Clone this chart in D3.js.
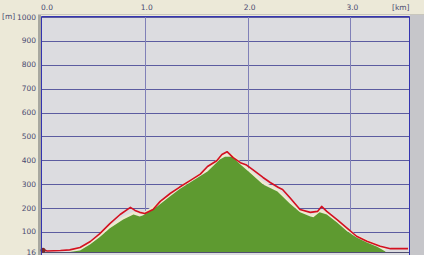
<!DOCTYPE html>
<html>
<head>
<meta charset="utf-8">
<title>Elevation profile</title>
<script src="https://d3js.org/d3.v7.min.js"></script>
<style>
	body { margin: 0; background: #ece9d8; }
	svg text { font-family: "DejaVu Sans", sans-serif; font-size: 7.5px; fill: #4a4a70; }
</style>
</head>
<body>
<div id="chart"></div>
<script>
	// elevation (red line): distance in km, height in m
	const trackKm = [0, 0.05, 0.18, 0.27, 0.37, 0.47, 0.56, 0.66, 0.76, 0.86, 0.905, 0.95, 1.0, 1.08, 1.15, 1.25, 1.34, 1.44, 1.54, 1.61, 1.7, 1.75, 1.8, 1.86, 1.93, 1.99, 2.05, 2.15, 2.22, 2.3, 2.34, 2.41, 2.51, 2.61, 2.68, 2.72, 2.77, 2.87, 2.97, 3.06, 3.16, 3.29, 3.39, 3.56];
	const trackM = [28, 20, 22, 25, 35, 60, 92, 135, 173, 203, 190, 182, 177, 194, 228, 262, 288, 315, 342, 374, 398, 424, 436, 411, 390, 380, 361, 328, 307, 286, 278, 244, 194, 182, 186, 207, 186, 152, 115, 82, 61, 40, 30, 30];

	// ground profile (green area)
	const groundKm = [0.27, 0.37, 0.47, 0.56, 0.66, 0.79, 0.89, 0.95, 0.98, 1.03, 1.12, 1.25, 1.34, 1.44, 1.61, 1.73, 1.78, 1.85, 1.93, 2.02, 2.15, 2.29, 2.41, 2.51, 2.61, 2.64, 2.7, 2.77, 2.87, 2.97, 3.06, 3.16, 3.26, 3.34];
	const groundM = [16, 22, 48, 78, 115, 152, 173, 165, 169, 182, 207, 250, 280, 307, 353, 403, 415, 415, 382, 349, 299, 269, 219, 182, 165, 161, 182, 173, 140, 102, 77, 56, 38, 18];

	const yTicks = [16, 100, 200, 300, 400, 500, 600, 700, 800, 900, 1000];
	const xTicks = [0, 1, 2, 3];

	const W = 424, H = 255;
	const svg = d3.select("#chart").append("svg").attr("width", W).attr("height", H);

	const x = d3.scaleLinear().domain([0, 3.57]).range([42, 409]);
	const y = d3.scaleLinear().domain([16, 1000]).range([252, 17]);

	// right gray strip and left bevel
	svg.append("rect").attr("x", 410).attr("y", 14).attr("width", 14).attr("height", H - 14).attr("fill", "#c6c6ca");
	svg.append("rect").attr("x", 38).attr("y", 14).attr("width", 3).attr("height", H - 14).attr("fill", "#a8a8a0");
	svg.append("line").attr("x1", 38).attr("x2", 424).attr("y1", 14.5).attr("y2", 14.5).attr("stroke", "#c8c6bc");

	// plot background
	svg.append("rect").attr("x", 41).attr("y", 16).attr("width", 368).attr("height", 240).attr("fill", "#dcdce0");

	// grid
	svg.append("g").selectAll("line").data(yTicks.filter(d => d > 16)).join("line")
		.attr("x1", 41).attr("x2", 409)
		.attr("y1", d => Math.round(y(d)) + 0.5).attr("y2", d => Math.round(y(d)) + 0.5)
		.attr("stroke", "#5c5ca0").attr("stroke-width", 1);
	svg.append("g").selectAll("line").data(xTicks.filter(d => d > 0)).join("line")
		.attr("x1", d => Math.round(x(d)) + 0.5).attr("x2", d => Math.round(x(d)) + 0.5)
		.attr("y1", 16).attr("y2", 253)
		.attr("stroke", "#8080b8").attr("stroke-width", 1);

	// ground area
	const ground = groundKm.map((k, i) => ({ k, m: groundM[i] }));
	const area = d3.area().x(d => x(d.k)).y0(252).y1(d => y(d.m));
	const edge = d3.line().x(d => x(d.k)).y(d => y(d.m));
	svg.append("path").attr("d", edge(ground)).attr("fill", "none")
		.attr("stroke", "#eeead0").attr("stroke-width", 2.5).attr("transform", "translate(0,-1.5)");
	svg.append("path").attr("d", area(ground)).attr("fill", "#5e9a30");

	// bottom line
	svg.append("line").attr("x1", 41).attr("x2", 409).attr("y1", 252.5).attr("y2", 252.5)
		.attr("stroke", "#505070").attr("stroke-width", 1);

	// track line
	const track = trackKm.map((k, i) => ({ k, m: trackM[i] }));
	const line = d3.line().x(d => x(d.k)).y(d => y(d.m));
	svg.append("path").attr("d", line(track)).attr("fill", "none")
		.attr("stroke", "#d41020").attr("stroke-width", 1.6).attr("stroke-linejoin", "round");

	// start marker
	svg.append("circle").attr("cx", x(0) + 1).attr("cy", y(trackM[0]) + 1).attr("r", 2.5).attr("fill", "#7a2a2a");

	// frame
	svg.append("path").attr("d", "M41.5,256 V16.5 H409.5 V256").attr("fill", "none")
		.attr("stroke", "#3434b0").attr("stroke-width", 1);

	// labels
	svg.append("g").selectAll("text").data(yTicks).join("text")
		.attr("x", 36).attr("y", d => y(d) + 2.5).attr("text-anchor", "end").text(d => d);
	svg.append("g").selectAll("text").data(xTicks).join("text")
		.attr("x", d => x(d) + (d === 0 ? 5 : 2)).attr("y", 10).attr("text-anchor", "middle").text(d => d.toFixed(1));
	svg.append("text").attr("x", 2).attr("y", 19).text("[m]");
	svg.append("text").attr("x", 392).attr("y", 10).text("[km]");
</script>
</body>
</html>
